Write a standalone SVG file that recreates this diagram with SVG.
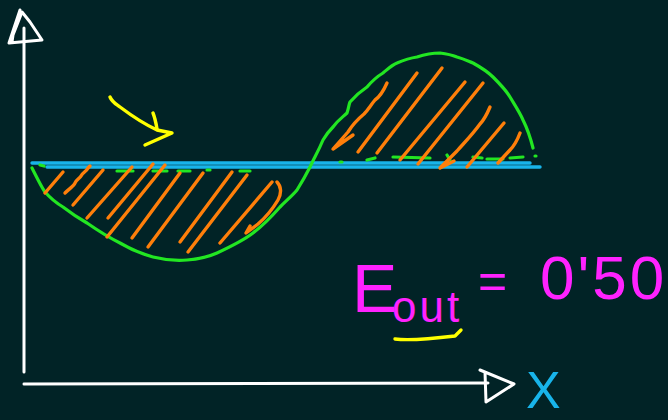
<svg xmlns="http://www.w3.org/2000/svg" width="668" height="420" viewBox="0 0 668 420">
<style>
.ax{fill:none;stroke:#ffffff;stroke-width:3;stroke-linecap:round;stroke-linejoin:round}
.gr{fill:none;stroke:#22e622;stroke-width:3.2;stroke-linecap:round;stroke-linejoin:round}
.bl{fill:none;stroke:#18b4ea;stroke-width:3.4;stroke-linecap:round}
.or{fill:none;stroke:#ff7f0a;stroke-width:3.4;stroke-linecap:round;stroke-linejoin:round}
.ye{fill:none;stroke:#ffff00;stroke-width:3.4;stroke-linecap:round;stroke-linejoin:round}
.mg{fill:#ff22ff;font-family:"Liberation Sans",Arial,sans-serif}
</style>
<rect width="668" height="420" fill="#012326"/>
<g id="axes">
<path class="ax" d="M24,372 L24,28"/>
<path class="ax" d="M20,10 L9,43 L42,40 L30,22 L22,12 L13,35 L12,42"/>
<path class="ax" d="M24,384 L488,383"/>
<path class="ax" d="M480,370 L514,384 L486,402 L485,372"/>
<text x="526" y="408" font-family="Liberation Sans, Arial, sans-serif" font-size="52" fill="#18b4ea">X</text>
</g>
<g id="baseline">
<path class="bl" d="M32,163 L530,163"/>
<path class="bl" d="M47,167 L540,167"/>
</g>
<g id="wave">
<path class="gr" d="M32,168 C38,180 42,188 45,192 C52,200 58,204 63,207 C72,214 80,219 87,223 C100,232 110,238 120,243 C132,250 142,254 153,257 C165,260 175,261 187,260 C200,259 208,257 217,253 C232,246 244,240 253,233 C265,224 273,215 280,207 C288,199 293,195 297,190 C302,182 306,175 310,167 C314,158 318,152 323,140 C327,133 330,130 333,127 C338,120 343,117 347,113 C349,107 349,104 350,102 C356,95 361,91 367,87 C373,80 378,76 383,73 C389,68 392,65 397,63 C404,60 410,58 417,57 C426,54 433,53 440,53 C448,54 452,55 457,57 C464,59 468,61 473,63 C482,68 488,72 493,77 C500,84 506,90 510,97 C516,107 520,113 523,120 C528,130 531,140 533,148"/>
<path class="gr" d="M40,165 L44,166 M117,171 L133,171 M153,171 L167,171 M178,171 L190,171 M207,170 L210,170 M240,171 L250,171 M340,162 L342,162 M367,160 L375,158 M393,157 L430,158 M447,155 L450,160 M473,157 L482,158 M487,159 L503,159 M510,158 L523,157 M535,156 L536,156"/>
</g>
<g id="hatch">
<path class="or" d="M45,193 L63,172"/>
<path class="or" d="M65,193 C70,188 74,186 75,183 C77,179 80,178 81,176 C83,172 86,172 88,168 L90,166"/>
<path class="or" d="M73,205 L103,170"/>
<path class="or" d="M87,218 L132,167"/>
<path class="or" d="M108,218 L153,164"/>
<path class="or" d="M107,237 L165,165"/>
<path class="or" d="M132,238 L180,173"/>
<path class="or" d="M148,247 L203,173"/>
<path class="or" d="M180,242 L232,172"/>
<path class="or" d="M188,252 L247,175"/>
<path class="or" d="M220,243 L272,182"/>
<path class="or" d="M277,182 C281,186 282,193 278,200 C272,210 265,218 258,224 L246,233 L250,226"/>
<path class="or" d="M387,83 C383,92 378,98 375,100 C370,106 368,110 364,114 C358,119 353,124 348,132 L333,149 L353,135"/>
<path class="or" d="M417,73 L358,152"/>
<path class="or" d="M442,68 L377,153"/>
<path class="or" d="M465,82 L400,160"/>
<path class="or" d="M483,83 L418,164"/>
<path class="or" d="M490,107 C487,114 484,120 480,124 C472,135 464,143 457,151 L440,168 L454,161"/>
<path class="or" d="M504,123 L467,167"/>
<path class="or" d="M520,133 C517,141 514,146 510,150 L498,163"/>
</g>
<g id="pointer">
<path class="ye" d="M110,97 C112,102 116,104 120,107 C132,116 144,124 157,130 L172,133 L145,145"/>
<path class="ye" d="M153,113 C155,118 156,123 157,129"/>
</g>
<g id="label">
<text class="mg" x="352" y="312" font-size="68">E</text>
<text class="mg" x="392" y="322" font-size="44" letter-spacing="3">out</text>
<text class="mg" x="478" y="298" font-size="50">=</text>
<text class="mg" x="540" y="299" font-size="62" letter-spacing="3">0'50</text>
<path class="ye" d="M395,339 C410,341 430,339 455,336 L461,330"/>
</g>
</svg>
